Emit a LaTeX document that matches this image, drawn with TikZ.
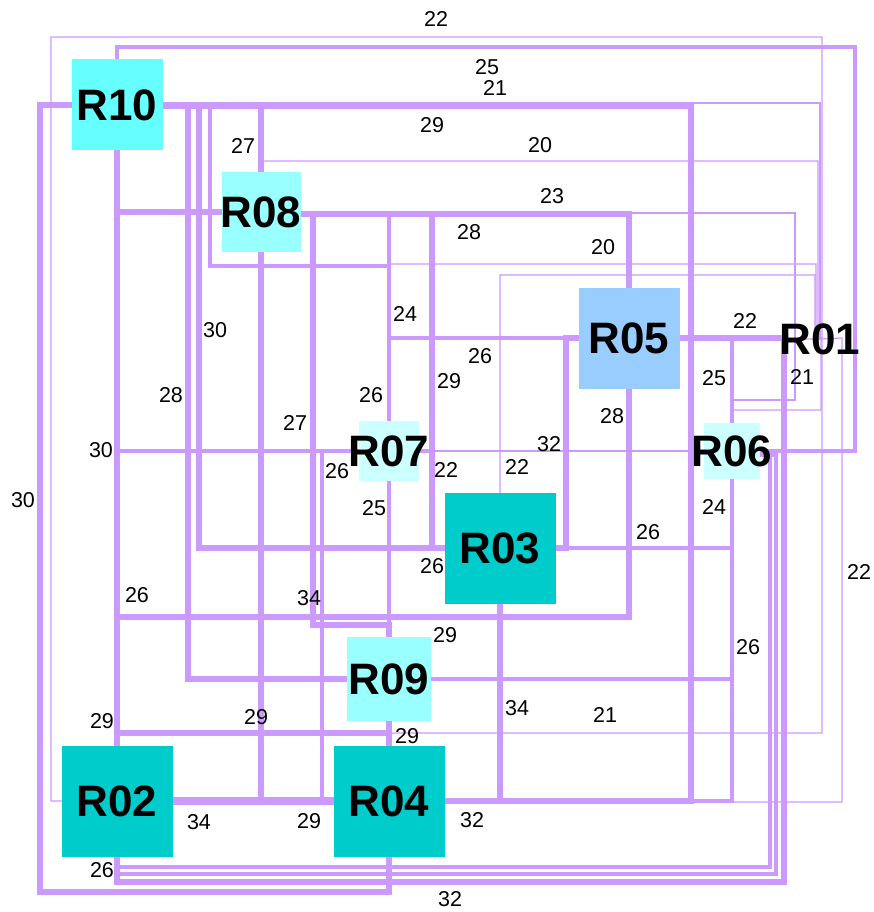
\documentclass[tikz,border=0pt]{standalone}
\usepackage{fontspec}
\setmainfont{Liberation Sans}
\pgfdeclarelayer{bg}
\pgfsetlayers{bg,main}
\definecolor{edgec}{HTML}{CC99FF}
\definecolor{cA}{HTML}{66FFFF}
\definecolor{cB}{HTML}{99FFFF}
\definecolor{cC}{HTML}{99CCFF}
\definecolor{cD}{HTML}{CCFFFF}
\definecolor{cE}{HTML}{00CCCC}
\begin{document}
\begin{tikzpicture}[x=1pt,y=-1pt,
  ed/.style={draw=edgec,line width=#1},
  nbox/.style={inner sep=0pt,minimum size=#1,font=\fontsize{44}{44}\selectfont\bfseries},
  lab/.style={inner sep=0pt,font=\fontsize{21.5}{21.5}\selectfont}]
\useasboundingbox (0,0) rectangle (874,912);
% nodes
\node[nbox=91pt,fill=cA] (R10) at (117,105) {\makebox[0pt]{R10}};
\node[nbox=79pt,fill=cB] (R08) at (261,212) {\makebox[0pt]{R08}};
\node[nbox=101pt,fill=cC] (R05) at (629,338) {\makebox[0pt]{R05}};
\node[nbox=1pt] (R01) at (820,339) {\makebox[0pt]{R01}};
\node[nbox=60pt,fill=cD] (R07) at (389,451) {\makebox[0pt]{R07}};
\node[nbox=56pt,fill=cD] (R06) at (732,451) {\makebox[0pt]{R06}};
\node[nbox=111pt,fill=cE] (R03) at (500,548) {\makebox[0pt]{R03}};
\node[nbox=84pt,fill=cB] (R09) at (389,679) {\makebox[0pt]{R09}};
\node[nbox=111pt,fill=cE] (R02) at (117,801) {\makebox[0pt]{R02}};
\node[nbox=111pt,fill=cE] (R04) at (389,801) {\makebox[0pt]{R04}};
% edges
\begin{pgfonlayer}{bg}
\draw[ed=1.2pt] (R02.center) -- (51,801) -- (51,37) -- (822,37) -- (822,338) -- (R01.center);
\draw[ed=3.6pt] (R10.center) -- (117,47) -- (855,47) -- (855,451) -- (R06.center);
\draw[ed=1.2pt] (R10.center |- 0,103) -- (820,103) -- (R01.center);
\draw[ed=6pt] (R10.center |- 0,106) -- (691,106) -- (691,801) -- (R04.center);
\draw[ed=6pt] (R10.center) -- (40,105) -- (40,892) -- (389,892) -- (R04.center);
\draw[ed=5.2pt] (R10.center |- 0,106) -- (188,106) -- (188,679) -- (R09.center);
\draw[ed=5.2pt] (R10.center |- 0,106) -- (199,106) -- (199,548) -- (R03.center);
\draw[ed=4pt] (R10.center |- 0,106) -- (210,106) -- (210,266) -- (389,266) -- (R07.center);
\draw[ed=5.5pt] (R10.center |- 0,106) -- (261,106) -- (R08.center);
\draw[ed=6.5pt] (R10.center) -- (R02.center);
\draw[ed=5.4pt] (R10.center) -- (117,617) -- (629,617) -- (R05.center);
\draw[ed=1.2pt] (R08.center) -- (261,161) -- (818,161) -- (818,338) -- (R01.center);
\draw[ed=6pt] (R08.center) -- (117,212) -- (R02.center);
\draw[ed=5.4pt] (R08.center) -- (261,801) -- (R04.center);
\draw[ed=5.4pt] (R08.center |- 0,214) -- (313,214) -- (313,625) -- (389,625) -- (R09.center);
\draw[ed=4pt] (R08.center |- 0,214) -- (389,214) -- (R07.center);
\draw[ed=5.6pt] (R08.center |- 0,214) -- (432,214) -- (432,548) -- (R03.center);
\draw[ed=6pt] (R08.center |- 0,214) -- (629,214) -- (R05.center);
\draw[ed=1.2pt] (R08.center |- 0,213) -- (795,213) -- (795,400) -- (732,400) -- (R06.center);
\draw[ed=4.2pt] (R07.center) -- (R09.center);
\draw[ed=4.2pt] (R07.center) -- (389,338) -- (R05.center);
\draw[ed=1.2pt] (R07.center) -- (389,264) -- (816,264) -- (816,338) -- (R01.center);
\draw[ed=4.2pt] (R07.center) -- (117,451) -- (R02.center);
\draw[ed=4.8pt] (R07.center) -- (322,451) -- (322,801) -- (R04.center);
\draw[ed=1.2pt] (R07.center) -- (R06.center);
\draw[ed=3.6pt] (R07.center) -- (432,451) -- (432,548) -- (R03.center);
\draw[ed=6pt] (R05.center) -- (566,338) -- (566,548) -- (R03.center);
\draw[ed=1.2pt] (R05.center) -- (R01.center);
\draw[ed=3.6pt] (R05.center) -- (732,338) -- (R06.center);
\draw[ed=4.8pt] (R05.center) -- (629,617) -- (389,617) -- (R09.center);
\draw[ed=4.8pt] (R05.center) -- (629,617) -- (500,617) -- (500,801) -- (R04.center);
\draw[ed=6pt] (R05.center) -- (784,338) -- (784,882) -- (117,882) -- (R02.center);
\draw[ed=5.4pt] (R09.center) -- (R04.center);
\draw[ed=7.2pt] (R02.center) -- (R04.center);
\draw[ed=6.6pt] (R03.center) -- (500,801) -- (R04.center);
\draw[ed=1.2pt] (R04.center |- 0,802) -- (842,802) -- (842,338) -- (R01.center);
\draw[ed=3.6pt] (R04.center) -- (732,801) -- (R06.center);
\draw[ed=5.4pt] (R02.center) -- (117,733) -- (389,733) -- (R09.center);
\draw[ed=3.2pt] (R02.center) -- (117,867) -- (770,867) -- (770,451) -- (R06.center);
\draw[ed=3.2pt] (R02.center) -- (117,874) -- (776,874) -- (776,455) -- (R06.center |- 0,455);
\draw[ed=4.8pt] (R02.center) -- (117,617) -- (500,617) -- (R03.center);
\draw[ed=1.2pt] (R03.center) -- (500,275) -- (815,275) -- (815,338) -- (R01.center);
\draw[ed=4.8pt] (R03.center) -- (732,548) -- (R06.center);
\draw[ed=3.6pt] (R03.center) -- (500,679) -- (R09.center);
\draw[ed=1.2pt] (R09.center) -- (389,733) -- (822,733) -- (822,338) -- (R01.center);
\draw[ed=4.2pt] (R09.center) -- (732,679) -- (R06.center);
\draw[ed=1.2pt] (R06.center) -- (732,410) -- (821,410) -- (821,338) -- (R01.center);
\end{pgfonlayer}
% labels
\node[lab] (l01) at (436,19) {22};
\node[lab] (l02) at (487,67) {25};
\node[lab] (l03) at (495,88) {21};
\node[lab] (l04) at (432,125) {29};
\node[lab] (l05) at (243,146) {27};
\node[lab] (l06) at (540,145) {20};
\node[lab] (l07) at (552,196) {23};
\node[lab] (l08) at (469,232) {28};
\node[lab] (l09) at (603,247) {20};
\node[lab] (l10) at (405,314) {24};
\node[lab] (l11) at (215,330) {30};
\node[lab] (l12) at (745,321) {22};
\node[lab] (l13) at (480,356) {26};
\node[lab] (l14) at (449,381) {29};
\node[lab] (l15) at (714,378) {25};
\node[lab] (l16) at (802,377) {21};
\node[lab] (l17) at (171,395) {28};
\node[lab] (l18) at (295,423) {27};
\node[lab] (l19) at (371,395) {26};
\node[lab] (l20) at (101,450) {30};
\node[lab] (l21) at (337,471) {26};
\node[lab] (l22) at (446,470) {22};
\node[lab] (l23) at (517,467) {22};
\node[lab] (l24) at (549,444) {32};
\node[lab] (l25) at (612,416) {28};
\node[lab] (l26) at (374,508) {25};
\node[lab] (l27) at (23,500) {30};
\node[lab] (l28) at (714,507) {24};
\node[lab] (l29) at (648,532) {26};
\node[lab] (l30) at (432,566) {26};
\node[lab] (l31) at (859,572) {22};
\node[lab] (l32) at (137,595) {26};
\node[lab] (l33) at (309,598) {34};
\node[lab] (l34) at (445,635) {29};
\node[lab] (l35) at (748,647) {26};
\node[lab] (l36) at (102,721) {29};
\node[lab] (l37) at (256,717) {29};
\node[lab] (l38) at (517,708) {34};
\node[lab] (l39) at (605,715) {21};
\node[lab] (l40) at (407,736) {29};
\node[lab] (l41) at (199,822) {34};
\node[lab] (l42) at (309,821) {29};
\node[lab] (l43) at (472,820) {32};
\node[lab] (l44) at (102,870) {26};
\node[lab] (l45) at (450,899) {32};
\end{tikzpicture}
\end{document}
